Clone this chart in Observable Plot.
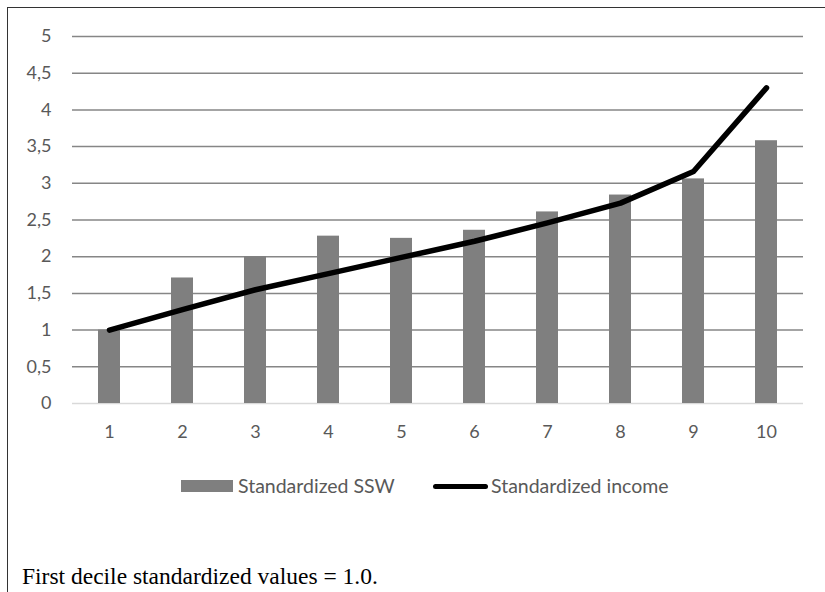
<!DOCTYPE html>
<html>
<head>
<meta charset="utf-8">
<script src="https://cdn.jsdelivr.net/npm/d3@7"></script>
<script src="https://cdn.jsdelivr.net/npm/@observablehq/plot@0.6"></script>
<style>
  html, body { margin: 0; padding: 0; background: #fff; }
  body { width: 825px; height: 592px; position: relative; overflow: hidden; }
  #frame {
    position: absolute; left: 7px; top: 7px; right: -10px; bottom: -10px;
    border-left: 1.5px solid #333; border-top: 1.5px solid #333;
  }
  #chart { position: absolute; left: 0; top: 0; }
  .legend-item {
    position: absolute; font-family: Lato, sans-serif; font-size: 19.5px;
    color: #595959; line-height: 1; white-space: nowrap;
  }
  .swatch { position: absolute; }
  #caption {
    position: absolute; left: 22px; top: 565px;
    font-family: "Liberation Serif", "Times New Roman", serif;
    font-size: 23.5px; color: #000; white-space: nowrap; line-height: 1;
  }
</style>
</head>
<body>
<div id="frame"></div>
<div id="chart"></div>
<div class="swatch" style="left:181px; top:480px; width:52px; height:12px; background:#7f7f7f;"></div>
<div class="legend-item" style="left:238px; top:476px;">Standardized SSW</div>
<div class="swatch" style="left:433px; top:483.5px; width:55px; height:5.5px; background:#000; border-radius:3px;"></div>
<div class="legend-item" style="left:491px; top:476px;">Standardized income</div>
<div id="caption">First decile standardized values = 1.0.</div>
<script>
// Income deciles and the two standardized series (first decile = 1.0)
const deciles = [1, 2, 3, 4, 5, 6, 7, 8, 9, 10];
const standardizedSSW = [1.0, 1.71, 2.0, 2.28, 2.25, 2.36, 2.61, 2.84, 3.06, 3.58];
const standardizedIncome = [1.0, 1.28, 1.55, 1.77, 1.99, 2.21, 2.46, 2.73, 3.16, 4.30];
const yTicks = [0, 0.5, 1, 1.5, 2, 2.5, 3, 3.5, 4, 4.5, 5];

const rows = deciles.map((d, i) => ({
  decile: d,
  ssw: standardizedSSW[i],
  income: standardizedIncome[i]
}));

const commaFormat = v => String(v).replace(".", ",");

const chart = Plot.plot({
  width: 825,
  height: 445,
  marginLeft: 72,
  marginRight: 22,
  marginTop: 36,
  marginBottom: 42,
  style: {
    fontFamily: "Lato, sans-serif",
    fontSize: "18px",
    color: "#595959",
    background: "transparent"
  },
  x: {
    type: "band",
    domain: deciles,
    paddingInner: 0.7,
    paddingOuter: 0.35,
    label: null,
    tickSize: 0,
    tickPadding: 22
  },
  y: {
    domain: [0, 5],
    ticks: yTicks,
    tickFormat: commaFormat,
    label: null,
    tickSize: 0,
    tickPadding: 21
  },
  marks: [
    Plot.ruleY(yTicks.filter(t => t > 0), { stroke: "#868686", strokeWidth: 1.5 }),
    Plot.ruleY([0], { stroke: "#d9d9d9", strokeWidth: 1.5 }),
    Plot.barY(rows, { x: "decile", y: "ssw", fill: "#7f7f7f" }),
    Plot.lineY(rows, {
      x: "decile", y: "income", stroke: "#000", strokeWidth: 5.5,
      strokeLinecap: "round", strokeLinejoin: "round"
    })
  ]
});

document.getElementById("chart").appendChild(chart);
</script>
</body>
</html>
